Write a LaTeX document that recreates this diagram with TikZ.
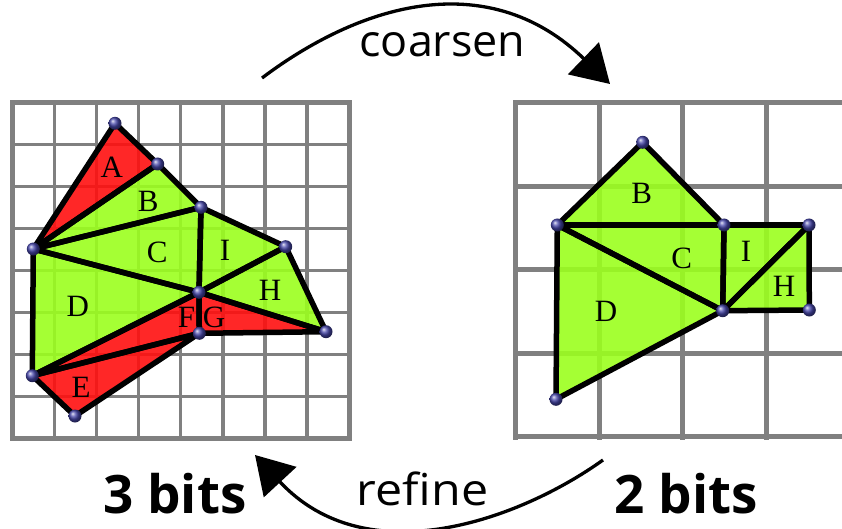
\documentclass[tikz,border=0pt]{standalone}
\usepackage{fontspec}
\usepackage{graphicx}
\usetikzlibrary{arrows.meta}
\newfontfamily\osans{Open Sans}
\newfontfamily\lblfont{Liberation Serif}
\definecolor{gridgray}{RGB}{128,128,128}
\definecolor{tgreen}{RGB}{155,255,30}
\definecolor{tred}{RGB}{255,15,15}
\definecolor{vball}{RGB}{70,70,170}
\tikzset{
  gridline/.style={draw=gridgray, line width=3.5pt, line cap=rect},
  gridborder/.style={draw=gridgray, line width=5pt},
  coarsegrid/.style={draw=gridgray, line width=5pt, line cap=rect},
  greentri/.style={fill=tgreen, fill opacity=0.9},
  redtri/.style={fill=tred, fill opacity=0.9},
  triedge/.style={draw=black, line width=5.5pt, line join=round, line cap=round},
  vtx/.style={circle, inner sep=0pt, minimum size=13pt, shading=ball, ball color=vball},
  lbl/.style={font=\lblfont\fontsize{31}{31}\selectfont, inner sep=0pt},
  opname/.style={font=\osans\fontsize{44}{44}\selectfont, inner sep=0pt, anchor=base},
  bitsname/.style={font=\osans\bfseries\fontsize{53}{53}\selectfont, inner sep=0pt, anchor=base},
  bigarrow/.style={line width=3.3pt, -{Triangle[length=37pt,width=44pt]}},
}
\begin{document}
\begin{tikzpicture}[x=1pt,y=-1pt]
\useasboundingbox (0,0) rectangle (842,529);
\clip (0,0) rectangle (842,529);
% ---------- left fine grid ----------
\foreach \k in {1,...,7} {
  \draw[gridline] ({12.5+\k*42.06},102.5) -- ({12.5+\k*42.06},438.5);
  \draw[gridline] (12.5,{102.5+\k*42}) -- (349,{102.5+\k*42});
}
\draw[gridborder] (12.5,102.5) rectangle (349,438.5);
% ---------- right coarse grid ----------
\foreach \k in {0,...,4} {
  \draw[coarsegrid] ({515.5+\k*83.6},102.5) -- ({515.5+\k*83.6},437);
  \draw[coarsegrid] (515.5,{102.5+\k*83.6}) -- (852,{102.5+\k*83.6});
}
% ---------- left mesh vertices ----------
\coordinate (p1) at (115,123.3);
\coordinate (p2) at (157.7,164);
\coordinate (p3) at (201,207.3);
\coordinate (p4) at (33.3,249);
\coordinate (p5) at (285.7,246.7);
\coordinate (p6) at (199,292.3);
\coordinate (p7) at (199.3,333.3);
\coordinate (p8) at (326,331.7);
\coordinate (p9) at (32.3,375.7);
\coordinate (p10) at (75,416);
% ---------- right mesh vertices ----------
\coordinate (q1) at (642.7,142.3);
\coordinate (q2) at (557.3,225);
\coordinate (q3) at (724,225);
\coordinate (q4) at (809,225);
\coordinate (q5) at (722.7,310.7);
\coordinate (q6) at (809.3,310);
\coordinate (q7) at (556,399.3);
% ---------- fills ----------
\fill[redtri] (p1) -- (p2) -- (p4) -- cycle;      % A
\fill[greentri] (p2) -- (p3) -- (p4) -- cycle;    % B
\fill[greentri] (p3) -- (p4) -- (p6) -- cycle;    % C
\fill[greentri] (p3) -- (p5) -- (p6) -- cycle;    % I
\fill[greentri] (p5) -- (p8) -- (p6) -- cycle;    % H
\fill[redtri] (p6) -- (p8) -- (p7) -- cycle;      % G
\fill[redtri] (p6) -- (p7) -- (p9) -- cycle;      % F
\fill[greentri] (p4) -- (p6) -- (p9) -- cycle;    % D
\fill[redtri] (p9) -- (p7) -- (p10) -- cycle;     % E
\fill[greentri] (q1) -- (q2) -- (q3) -- cycle;    % B
\fill[greentri] (q2) -- (q3) -- (q5) -- cycle;    % C
\fill[greentri] (q2) -- (q5) -- (q7) -- cycle;    % D
\fill[greentri] (q3) -- (q4) -- (q5) -- cycle;    % I
\fill[greentri] (q4) -- (q6) -- (q5) -- cycle;    % H
% ---------- edges ----------
\draw[triedge] (p1) -- (p2) -- (p4) -- cycle;
\draw[triedge] (p2) -- (p3) -- (p4) -- cycle;
\draw[triedge] (p3) -- (p4) -- (p6) -- cycle;
\draw[triedge] (p3) -- (p5) -- (p6) -- cycle;
\draw[triedge] (p5) -- (p8) -- (p6) -- cycle;
\draw[triedge] (p6) -- (p8) -- (p7) -- cycle;
\draw[triedge] (p6) -- (p7) -- (p9) -- cycle;
\draw[triedge] (p4) -- (p6) -- (p9) -- cycle;
\draw[triedge] (p9) -- (p7) -- (p10) -- cycle;
\draw[triedge] (q1) -- (q2) -- (q3) -- cycle;
\draw[triedge] (q2) -- (q3) -- (q5) -- cycle;
\draw[triedge] (q2) -- (q5) -- (q7) -- cycle;
\draw[triedge] (q3) -- (q4) -- (q5) -- cycle;
\draw[triedge] (q4) -- (q6) -- (q5) -- cycle;
% ---------- vertex balls ----------
\foreach \v in {p1,p2,p3,p4,p5,p6,p7,p8,p9,p10,q1,q2,q3,q4,q5,q6,q7}
  \node[vtx] (n\v) at (\v) {};
% ---------- triangle labels ----------
\node[lbl] (lA) at (111.7,167.3) {A};
\node[lbl] (lB) at (148.3,201.7) {B};
\node[lbl] (lC) at (157.3,252.3) {C};
\node[lbl] (lI) at (225,250) {I};
\node[lbl] (lH) at (270,290) {H};
\node[lbl] (lD) at (77.7,306.7) {D};
\node[lbl] (lF) at (186.5,317) {F};
\node[lbl] (lG) at (214,317) {G};
\node[lbl] (lE) at (81,387.7) {E};
\node[lbl] (rB) at (641.7,193.3) {B};
\node[lbl] (rC) at (681.7,258.3) {C};
\node[lbl] (rI) at (746,251.7) {I};
\node[lbl] (rH) at (784,286.7) {H};
\node[lbl] (rD) at (606,311.7) {D};
% ---------- operation texts ----------
\node[opname] (tco) at (442.5,57) {\scalebox{1.02}[1]{coarsen}};
\node[opname] (tre) at (422.5,505) {\scalebox{1.1}[1]{refine}};
\node[bitsname] (t3) at (175,513) {3 bits};
\node[bitsname] (t2) at (686,513) {2 bits};
% ---------- arrows ----------
\coordinate (cs) at (262,78);
\coordinate (ce) at (610,84);
\draw[bigarrow] (cs) .. controls (367,-1) and (491.5,-30.5) .. (ce);
\coordinate (rs) at (603,460);
\coordinate (re) at (255,455);
\draw[bigarrow] (rs) .. controls (520,519.5) and (367,575.5) .. (re);
\end{tikzpicture}
\end{document}
